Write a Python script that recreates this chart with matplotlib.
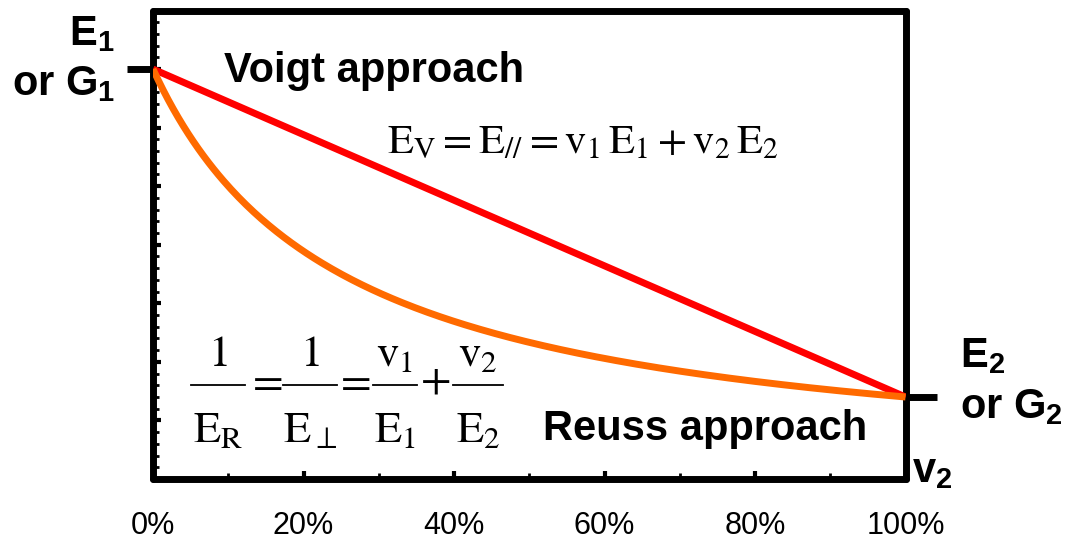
import numpy as np
import matplotlib.pyplot as plt
from matplotlib.lines import Line2D
from matplotlib.ticker import MultipleLocator

# moduli of the two phases (E1 / G1 stiff, E2 / G2 compliant)
E1 = 7.0
E2 = 1.4
x_ticks = [0, 0.2, 0.4, 0.6, 0.8, 1.0]
x_tick_labels = ["0%", "20%", "40%", "60%", "80%", "100%"]

v2 = np.linspace(0, 1, 300)
v1 = 1 - v2
voigt = v1 * E1 + v2 * E2
reuss = 1 / (v1 / E1 + v2 / E2)

plt.rcParams['mathtext.fontset'] = 'custom'
plt.rcParams['mathtext.rm'] = 'Liberation Sans:bold'
plt.rcParams['mathtext.it'] = 'Liberation Sans:bold'
plt.rcParams['mathtext.bf'] = 'Liberation Sans:bold'
plt.rcParams['mathtext.default'] = 'rm'

W, H = 1076, 539


def px(x, y):
    # pixel position (from top left) -> figure fraction
    return x / W, 1 - y / H


fig = plt.figure(figsize=(W / 100, H / 100), dpi=100)
ax = fig.add_axes([153 / W, 1 - 479 / H, (905.5 - 153) / W, (479 - 10.5) / H])

ax.plot(v2, voigt, color="#ff0000", lw=5, solid_capstyle="butt", zorder=3)
ax.plot(v2, reuss, color="#ff6a00", lw=5, solid_capstyle="butt", zorder=4)

ax.set_xlim(0, 1)
ax.set_ylim(0, 8)

for sp in ax.spines.values():
    sp.set_linewidth(5)
    sp.set_capstyle("round")

ax.xaxis.set_minor_locator(MultipleLocator(0.1))
ax.yaxis.set_major_locator(MultipleLocator(1))
ax.yaxis.set_minor_locator(MultipleLocator(0.2))
ax.set_xticks(x_ticks)
ax.set_xticklabels(x_tick_labels, fontsize=22, family="Liberation Sans")
ax.tick_params(which="major", direction="in", length=6, width=3, pad=23)
ax.tick_params(which="minor", direction="in", length=4.5, width=2)
ax.tick_params(axis="y", labelleft=False)

# short markers outside the frame at the end-member values
ax.plot([-0.035, 0], [E1, E1], color="black", lw=5, clip_on=False, solid_capstyle="butt")
ax.plot([1, 1.0425], [E2, E2], color="black", lw=5, clip_on=False, solid_capstyle="butt")

lab = dict(fontsize=30, family="Liberation Sans", weight="bold", math_fontfamily="custom")
fig.text(*px(115, 45), r"E$_1$", ha="right", va="baseline", **lab)
fig.text(*px(115, 95), r"or G$_1$", ha="right", va="baseline", **lab)
fig.text(*px(960, 367), r"E$_2$", ha="left", va="baseline", **lab)
fig.text(*px(960, 418), r"or G$_2$", ha="left", va="baseline", **lab)
fig.text(*px(912, 482), r"v$_2$", ha="left", va="baseline", **lab)

ax.text(0.095, 6.78, "Voigt approach", ha="left", va="baseline",
        fontsize=30, family="Liberation Sans", weight="bold")
ax.text(0.518, 0.666, "Reuss approach", ha="left", va="baseline",
        fontsize=30, family="Liberation Sans", weight="bold")

# Voigt (parallel) bound
ax.text(0.311, 5.57,
        r"$\mathrm{E_V = E_{//} = v_1\,E_1 + v_2\,E_2}$",
        ha="left", va="baseline", fontsize=30.5, math_fontfamily="stix")

# Reuss (series) bound, written as stacked fractions
eq = dict(fontsize=32, math_fontfamily="stix", va="baseline", ha="center")
fracs = [(191, 245, r"$\mathrm{1}$", r"$\mathrm{E_R}$"),
         (283, 337, r"$\mathrm{1}$", r"$\mathrm{E_\perp}$"),
         (373, 417, r"$\mathrm{v_1}$", r"$\mathrm{E_1}$"),
         (453, 503, r"$\mathrm{v_2}$", r"$\mathrm{E_2}$")]
for x0, x1, num, den in fracs:
    xc = (x0 + x1) / 2
    fig.text(*px(xc, 366), num, **eq)
    fig.text(*px(xc, 442), den, **eq)
    fig.add_artist(Line2D([x0 / W, x1 / W], [1 - 385 / H] * 2,
                          color="black", lw=1.3, transform=fig.transFigure))
for xc, op in [(264, "="), (352, "="), (435, "+")]:
    fig.text(*px(xc, 393), "$" + op + "$", **eq)

fig.savefig("out.png", dpi=100)
